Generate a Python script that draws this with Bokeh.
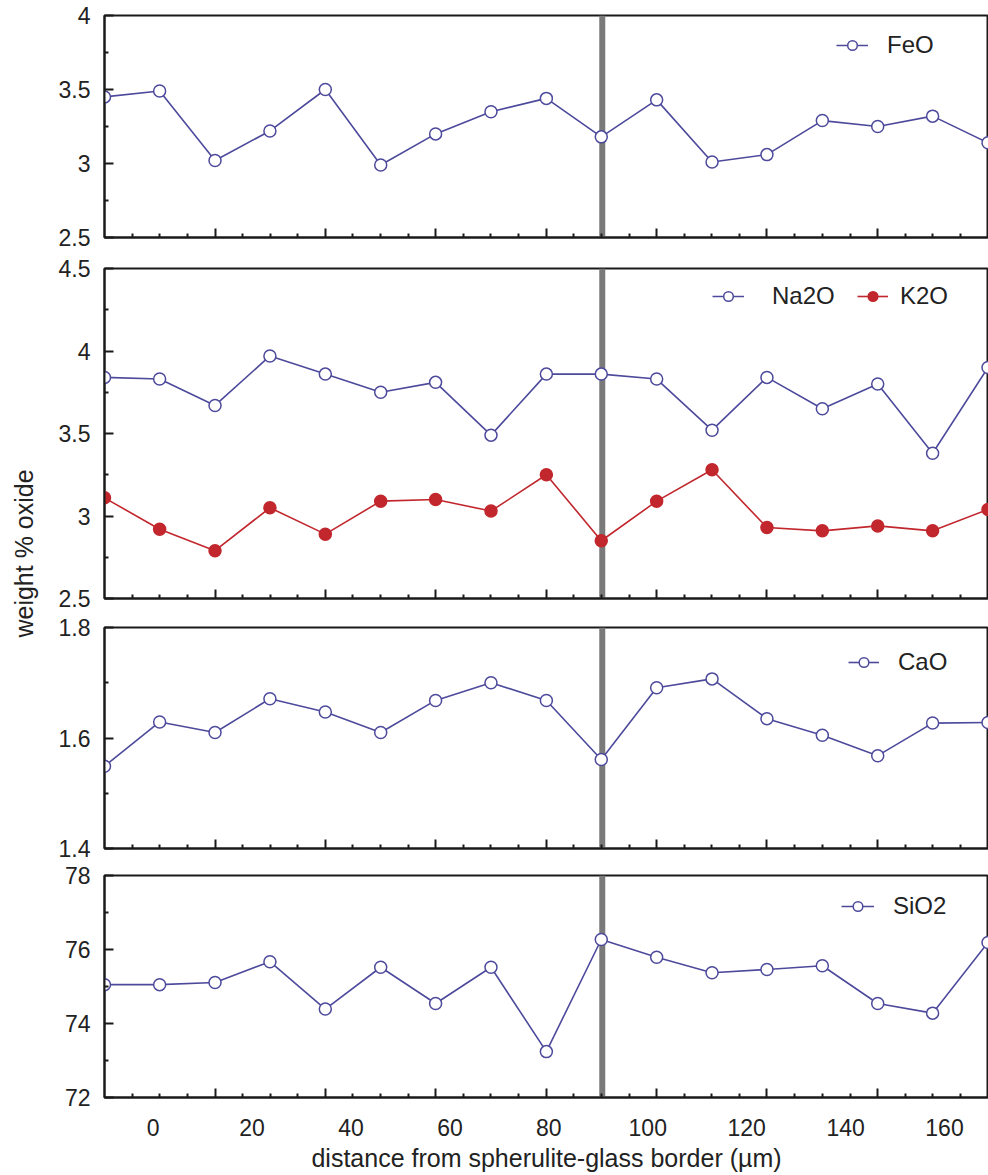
import math
from bokeh.plotting import figure
from bokeh.layouts import column, row
from bokeh.models import (Range1d, FixedTicker, LinearAxis, Span, Legend, LegendItem,
                          Label, CustomJSTickFormatter)
from bokeh.embed import file_html
from bokeh.resources import INLINE

# ---------------- data ----------------
distance = [-9.85, 1.3, 12.5, 23.6, 34.8, 46.0, 57.1, 68.3, 79.5, 90.6,
            101.8, 113.0, 124.1, 135.3, 146.5, 157.6, 168.8]
feo = [3.45, 3.49, 3.02, 3.22, 3.50, 2.99, 3.20, 3.35, 3.44, 3.18,
       3.43, 3.01, 3.06, 3.29, 3.25, 3.32, 3.14]
na2o = [3.84, 3.83, 3.67, 3.97, 3.86, 3.75, 3.81, 3.49, 3.86, 3.86,
        3.83, 3.52, 3.84, 3.65, 3.80, 3.38, 3.90]
k2o = [3.11, 2.92, 2.79, 3.05, 2.89, 3.09, 3.10, 3.03, 3.25, 2.85,
       3.09, 3.28, 2.93, 2.91, 2.94, 2.91, 3.04]
cao = [1.549, 1.629, 1.610, 1.671, 1.647, 1.610, 1.668, 1.700, 1.668, 1.561,
       1.691, 1.707, 1.635, 1.605, 1.568, 1.627, 1.628]
sio2 = [75.05, 75.05, 75.11, 75.67, 74.39, 75.52, 74.54, 75.52, 73.24, 76.27,
        75.79, 75.37, 75.46, 75.56, 74.54, 74.28, 76.19]
border_position = 90.8
x_tick_labels = [0, 20, 40, 60, 80, 100, 120, 140, 160]
feo_ticks = [2.5, 3, 3.5, 4]
alk_ticks = [2.5, 3, 3.5, 4, 4.5]
cao_ticks = [1.4, 1.6, 1.8]
sio2_ticks = [72, 74, 76, 78]

# ---------------- styling ----------------
BLUE = "#4d4a9c"
RED = "#c1272d"
FONT = "Liberation Sans"
TXT = "#222222"
AX = "#1a1a1a"
X_START, X_END = -9.85, 168.9
FRAME_W = 884

evens = distance[0::2]
x_major = evens[1:-1]
x_minor = []
for a, b in zip(evens[:-1], evens[1:]):
    x_minor += [a + (b - a) * f for f in (0.25, 0.5, 0.75)]

fmt = CustomJSTickFormatter(code="return String(tick);")


def midpoints(ticks):
    return [(a + b) / 2 for a, b in zip(ticks[:-1], ticks[1:])]


def tick_only_axis(axis, positions, length, line=True):
    axis.ticker = FixedTicker(ticks=[], minor_ticks=positions)
    axis.major_tick_in = 0
    axis.major_tick_out = 0
    axis.minor_tick_in = length
    axis.minor_tick_out = 0
    axis.minor_tick_line_width = 2
    axis.minor_tick_line_color = AX
    axis.major_label_standoff = 0
    if line:
        axis.axis_line_width = 2
        axis.axis_line_color = AX
    else:
        axis.axis_line_color = None


def make_panel(ticks, frame_h, top, bottom, show_labels=False):
    p = figure(frame_width=FRAME_W, frame_height=frame_h,
               x_range=Range1d(X_START, X_END),
               y_range=Range1d(ticks[0], ticks[-1]),
               min_border_left=56, min_border_right=0,
               min_border_top=top, min_border_bottom=bottom,
               toolbar_location=None, output_backend="svg",
               background_fill_color="white", border_fill_color="white")
    p.xgrid.visible = False
    p.ygrid.visible = False
    p.outline_line_color = AX
    p.outline_line_width = 2

    # tick marks along the bottom edge (long and short), no labels
    tick_only_axis(p.xaxis[0], x_major, 9, line=True)
    short = LinearAxis()
    tick_only_axis(short, x_minor, 4, line=False)
    p.add_layout(short, "below")

    ya = p.yaxis[0]
    ya.ticker = FixedTicker(ticks=ticks, minor_ticks=midpoints(ticks))
    ya.formatter = fmt
    ya.major_tick_in = 9
    ya.major_tick_out = 0
    ya.minor_tick_in = 4
    ya.minor_tick_out = 0
    ya.major_label_standoff = 14
    ya.major_label_text_font = FONT
    ya.major_label_text_font_size = "23px"
    ya.major_label_text_color = TXT
    ya.axis_line_width = 2
    ya.axis_line_color = AX
    ya.major_tick_line_width = 2
    ya.minor_tick_line_width = 2
    ya.major_tick_line_color = AX
    ya.minor_tick_line_color = AX

    if show_labels:
        la = LinearAxis(ticker=FixedTicker(ticks=x_tick_labels, minor_ticks=[]))
        la.axis_line_color = None
        la.major_tick_in = 0
        la.major_tick_out = 0
        la.minor_tick_in = 0
        la.minor_tick_out = 0
        la.major_label_standoff = 21
        la.major_label_text_font = FONT
        la.major_label_text_font_size = "23px"
        la.major_label_text_color = TXT
        la.axis_label = "distance from spherulite-glass border (\u00b5m)"
        la.axis_label_standoff = 5
        la.axis_label_text_font = FONT
        la.axis_label_text_font_size = "25px"
        la.axis_label_text_font_style = "normal"
        la.axis_label_text_color = TXT
        p.add_layout(la, "below")

    p.add_layout(Span(location=border_position, dimension="height",
                      line_color="#7a7a7a", line_width=6, level="underlay"))
    return p


def add_series(p, y, color, fill):
    lr = p.line(distance, y, line_color=color, line_width=1.6)
    sr = p.scatter(distance, y, size=12, line_color=color, line_width=1.5,
                   fill_color=fill)
    return [lr, sr]


def add_legend(p, label, rends, margin, label_width, standoff, glyph_w):
    leg = Legend(items=[LegendItem(label=label, renderers=rends)],
                 location="top_right", margin=margin, padding=0,
                 label_width=label_width, label_standoff=standoff,
                 glyph_width=glyph_w, glyph_height=24,
                 border_line_color=None, background_fill_alpha=0,
                 label_text_font=FONT, label_text_font_size="24px",
                 label_text_color=TXT)
    p.add_layout(leg)


# Panel 1: FeO
p1 = make_panel(feo_ticks, 222, 15, 16)
r = add_series(p1, feo, BLUE, "white")
add_legend(p1, "FeO", r, 16, 85, 19, 32)

# Panel 2: Na2O, K2O
p2 = make_panel(alk_ticks, 330, 15, 15)
rn = add_series(p2, na2o, BLUE, "white")
rk = add_series(p2, k2o, RED, RED)
add_legend(p2, "Na2O", rn, 14, 202, 28, 32)
add_legend(p2, "K2O", rk, 14, 74, 12, 31)

# Panel 3: CaO
p3 = make_panel(cao_ticks, 221, 14, 14)
r = add_series(p3, cao, BLUE, "white")
add_legend(p3, "CaO", r, 21, 69, 19, 31)

# Panel 4: SiO2
p4 = make_panel(sio2_ticks, 222, 13, 40, show_labels=True)
r = add_series(p4, sio2, BLUE, "white")
add_legend(p4, "SiO2", r, 17, 78, 19, 33)

# Left strip holding the shared y-axis title
H = 1173
side = figure(width=48, height=H, x_range=Range1d(0, 48), y_range=Range1d(H, 0),
              min_border=0, toolbar_location=None, output_backend="svg",
              x_axis_location=None, y_axis_location=None,
              outline_line_color=None)
side.xgrid.visible = False
side.ygrid.visible = False
side.add_layout(Label(x=23, y=553, text="weight % oxide", angle=math.pi / 2,
                      text_align="center", text_baseline="middle",
                      text_font=FONT, text_font_size="25px", text_color=TXT))

layout = row(side, column(p1, p2, p3, p4))
open("out.html", "w").write(file_html(layout, INLINE))
